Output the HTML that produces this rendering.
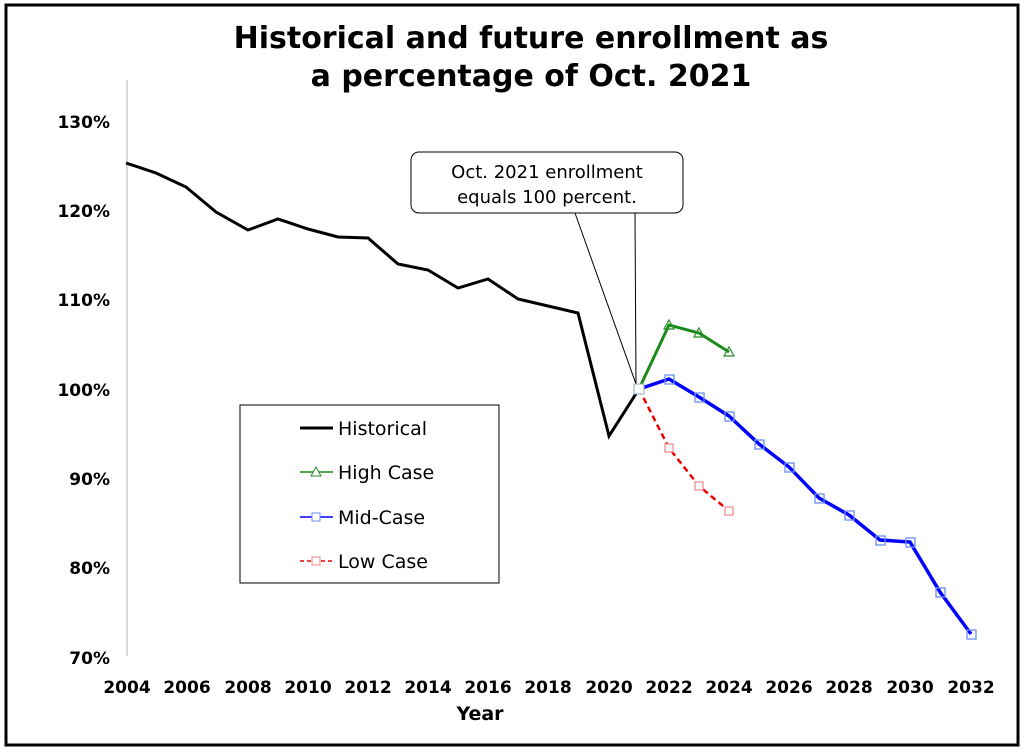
<!DOCTYPE html>
<html><head><style>body{margin:0;background:#fff}svg{display:block}</style></head><body>
<svg width="1024" height="752" viewBox="0 0 1024 752" font-family="'DejaVu Sans','Liberation Sans',sans-serif">
<rect x="6" y="5" width="1012" height="740" fill="#fff" stroke="#000" stroke-width="3"/>
<text x="531" y="48" font-size="30" font-weight="bold" text-anchor="middle">Historical and future enrollment as</text>
<text x="531" y="86" font-size="30" font-weight="bold" text-anchor="middle">a percentage of Oct. 2021</text>
<line x1="127" y1="80" x2="127" y2="656" stroke="#ccc" stroke-width="1.5"/>
<g font-size="17" font-weight="bold" text-anchor="end">
<text x="110" y="128">130%</text><text x="110" y="217">120%</text><text x="110" y="306">110%</text>
<text x="110" y="396">100%</text><text x="110" y="485">90%</text><text x="110" y="574">80%</text><text x="110" y="664">70%</text>
</g>
<g font-size="17" font-weight="bold" text-anchor="middle">
<text x="127" y="693">2004</text><text x="187" y="693">2006</text><text x="248" y="693">2008</text><text x="308" y="693">2010</text><text x="368" y="693">2012</text><text x="428" y="693">2014</text><text x="488" y="693">2016</text><text x="548" y="693">2018</text><text x="609" y="693">2020</text><text x="669" y="693">2022</text><text x="729" y="693">2024</text><text x="789" y="693">2026</text><text x="849" y="693">2028</text><text x="910" y="693">2030</text><text x="971" y="693">2032</text>
</g>
<text x="480" y="720" font-size="19" font-weight="bold" text-anchor="middle">Year</text>
<rect x="411" y="152" width="272" height="61" rx="8" fill="#fff" stroke="#000"/>
<text x="547" y="178" font-size="18" text-anchor="middle">Oct. 2021 enrollment</text>
<text x="547" y="203" font-size="18" text-anchor="middle">equals 100 percent.</text>
<polyline points="575,213 636,384 635,213" fill="none" stroke="#000" stroke-width="1"/>
<polyline points="126,163 156,173 186,187 216,212 248,230 278,219 308,229 338,237 368,238 398,264 428,270 458,288 488,279 518,299 548,306 578,313 609,436 639,389" fill="none" stroke="#000" stroke-width="3"/>
<polyline points="639,389 669,325 699,333 729,352" fill="none" stroke="#1a8a1a" stroke-width="3"/>
<g fill="none" stroke="#2a8a2a" stroke-width="1.2">
<path d="M669,320 l5,9 h-10z"/><path d="M699,328 l5,9 h-10z"/><path d="M729,347 l5,9 h-10z"/></g>
<polyline points="639,389 669,448 699,486 729,511" fill="none" stroke="#e00" stroke-width="2.5" stroke-dasharray="6,4"/>
<g fill="#fff" stroke="#e88" stroke-width="1.2"><rect x="665" y="444" width="8" height="8"/><rect x="695" y="482" width="8" height="8"/><rect x="725" y="507" width="8" height="8"/></g>
<polyline points="639,389 669,379 699,397 729,416 759,444 789,467 819,498 849,515 880,540 910,542 940,592 971,634" fill="none" stroke="#00f" stroke-width="3.5"/>
<g fill="none" stroke="#6a8ef0" stroke-width="1.3">
<rect x="665" y="375" width="9" height="9"/><rect x="695" y="393" width="9" height="9"/><rect x="725" y="412" width="9" height="9"/><rect x="755" y="440" width="9" height="9"/><rect x="785" y="463" width="9" height="9"/><rect x="815" y="494" width="9" height="9"/><rect x="845" y="511" width="9" height="9"/><rect x="876" y="536" width="9" height="9"/><rect x="906" y="538" width="9" height="9"/><rect x="936" y="588" width="9" height="9"/><rect x="967" y="630" width="9" height="9"/></g>
<rect x="634" y="384" width="10" height="10" fill="#fff" stroke="#9ab"/>
<rect x="240" y="405" width="259" height="178" fill="#fff" stroke="#000"/>
<g font-size="19">
<line x1="300" y1="428" x2="333" y2="428" stroke="#000" stroke-width="3"/><text x="338" y="435">Historical</text>
<line x1="300" y1="472" x2="333" y2="472" stroke="#1a8a1a" stroke-width="1.5"/><path d="M316,467 l5,9 h-10z" fill="#fff" stroke="#2a8a2a"/><text x="338" y="479">High Case</text>
<line x1="300" y1="517" x2="333" y2="517" stroke="#00f" stroke-width="1.5"/><rect x="312" y="513" width="8" height="8" fill="#fff" stroke="#6a8ef0"/><text x="338" y="524">Mid-Case</text>
<line x1="300" y1="561" x2="333" y2="561" stroke="#e00" stroke-width="1.5" stroke-dasharray="4,3"/><rect x="312" y="557" width="8" height="8" fill="#fff" stroke="#e88"/><text x="338" y="568">Low Case</text>
</g>
</svg>
</body></html>
